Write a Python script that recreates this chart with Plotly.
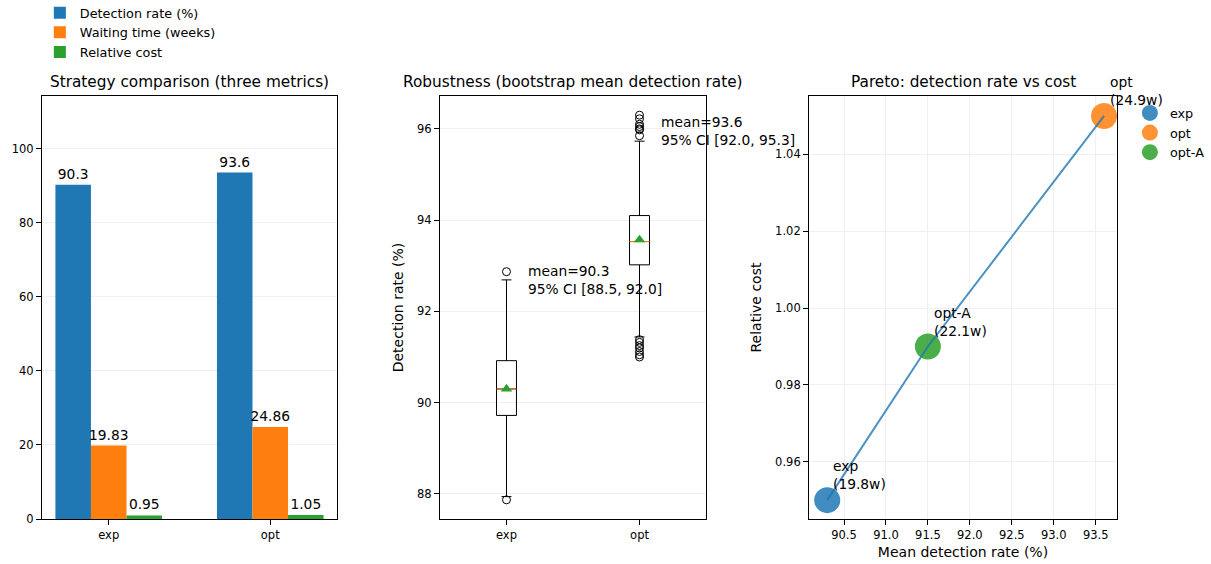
import plotly.graph_objects as go

FONT = "DejaVu Sans"
C0, C1, C2 = "#1f77b4", "#ff7f0e", "#2ca02c"

# ---- data ----
strategies = ["exp", "opt"]
detection_rate = [90.3, 93.6]
waiting_weeks = [19.83, 24.86]
relative_cost = [0.95, 1.05]

# bootstrap box summary
box_q1 = [89.72, 93.02]
box_median = [90.30, 93.53]
box_q3 = [90.92, 94.10]
box_low = [87.94, 91.44]
box_high = [92.69, 95.73]
box_mean = [90.30, 93.57]
ci_low = [88.5, 92.0]
ci_high = [92.0, 95.3]
outliers_exp = [92.87, 87.87]
outliers_opt = [96.30, 96.22, 96.10, 96.05, 96.00, 95.98, 95.85,
                91.38, 91.32, 91.25, 91.20, 91.12, 91.05, 91.00]

# pareto
pareto_names = ["exp", "opt", "opt-A"]
pareto_rate = [90.3, 93.6, 91.5]
pareto_cost = [0.95, 1.05, 0.99]
pareto_weeks = [19.8, 24.9, 22.1]
pareto_colors = [C0, C1, C2]

fig = go.Figure()

# ---- panel 1: grouped bars ----
bar_series = [
    ("Detection rate (%)", detection_rate, C0, "{:.1f}"),
    ("Waiting time (weeks)", waiting_weeks, C1, "{:.2f}"),
    ("Relative cost", relative_cost, C2, "{:.2f}"),
]
for name, vals, col, fmt in bar_series:
    fig.add_trace(go.Bar(
        x=strategies, y=vals, name=name, marker=dict(color=col, line=dict(width=0)),
        text=[fmt.format(v) for v in vals], textposition="outside",
        constraintext="none",
        textfont=dict(family=FONT, size=13.8, color="black"),
        cliponaxis=False, xaxis="x", yaxis="y", legend="legend",
    ))

# ---- panel 2: boxes ----
box_pos = [1, 2]
box_w = 0.15
for i, s in enumerate(strategies):
    fig.add_trace(go.Box(
        x=[box_pos[i]], q1=[box_q1[i]], median=[box_median[i]], q3=[box_q3[i]],
        lowerfence=[box_low[i]], upperfence=[box_high[i]],
        width=box_w, whiskerwidth=0.5, boxpoints=False,
        line=dict(color="black", width=1), fillcolor="rgba(255,255,255,0)",
        showlegend=False, xaxis="x2", yaxis="y2", hoverinfo="skip",
    ))
    # orange median line
    fig.add_trace(go.Scatter(
        x=[box_pos[i] - box_w / 2, box_pos[i] + box_w / 2],
        y=[box_median[i], box_median[i]], mode="lines",
        line=dict(color=C1, width=1), showlegend=False, xaxis="x2", yaxis="y2",
    ))
# outliers
for pos, outs in zip(box_pos, [outliers_exp, outliers_opt]):
    fig.add_trace(go.Scatter(
        x=[pos] * len(outs), y=outs, mode="markers",
        marker=dict(symbol="circle-open", size=8, color="black", line=dict(width=1)),
        showlegend=False, xaxis="x2", yaxis="y2",
    ))
# means
fig.add_trace(go.Scatter(
    x=box_pos, y=box_mean, mode="markers",
    marker=dict(symbol="triangle-up", size=10, color=C2),
    showlegend=False, xaxis="x2", yaxis="y2",
))

# ---- panel 3: pareto ----
for n, r, c, col in zip(pareto_names, pareto_rate, pareto_cost, pareto_colors):
    fig.add_trace(go.Scatter(
        x=[r], y=[c], mode="markers", name=n,
        marker=dict(size=26, color=col, opacity=0.85),
        xaxis="x3", yaxis="y3", legend="legend2",
    ))
order = sorted(range(len(pareto_rate)), key=lambda k: pareto_rate[k])
fig.add_trace(go.Scatter(
    x=[pareto_rate[k] for k in order], y=[pareto_cost[k] for k in order],
    mode="lines", line=dict(color=C0, width=2), opacity=0.8,
    showlegend=False, xaxis="x3", yaxis="y3",
))

annotations = []
# subplot titles
titles = ["Strategy comparison (three metrics)",
          "Robustness (bootstrap mean detection rate)",
          "Pareto: detection rate vs cost"]
domains = [[0, 0.2744], [0.3702, 0.6177], [0.7135, 1.0]]
for t, d in zip(titles, domains):
    annotations.append(dict(
        text=t, x=(d[0] + d[1]) / 2, y=1, xref="paper", yref="paper",
        xanchor="center", yanchor="bottom", yshift=3, showarrow=False,
        font=dict(family=FONT, size=15.3, color="black"),
    ))
# box annotations (placed a fixed offset above the mean)
for i in range(len(strategies)):
    annotations.append(dict(
        text=f"mean={box_mean[i]:.1f}<br>95% CI [{ci_low[i]:.1f}, {ci_high[i]:.1f}]",
        x=box_pos[i] + 0.15, y=box_mean[i] + 2.35, xref="x2", yref="y2",
        xanchor="left", yanchor="middle", align="left", showarrow=False,
        yshift=2,
        font=dict(family=FONT, size=13.8, color="black"),
    ))
# pareto labels
for n, r, c, w in zip(pareto_names, pareto_rate, pareto_cost, pareto_weeks):
    annotations.append(dict(
        text=f"{n}<br>({w:.1f}w)", x=r, y=c, xref="x3", yref="y3",
        xanchor="left", yanchor="bottom", align="left", showarrow=False,
        xshift=4, yshift=6,
        font=dict(family=FONT, size=13.8, color="black"),
    ))

axis_common = dict(
    showline=True, mirror=True, linecolor="black", linewidth=1,
    ticks="outside", ticklen=5, tickcolor="black", tickwidth=1,
    tickfont=dict(family=FONT, size=11.5, color="black"),
    zeroline=False,
)
grid = dict(showgrid=True, gridcolor="#f0f0f0", gridwidth=1)
nogrid = dict(showgrid=False)

fig.update_layout(
    width=1211, height=564,
    margin=dict(l=42, r=94, t=96, b=45, autoexpand=False),
    paper_bgcolor="white", plot_bgcolor="white",
    barmode="group", bargap=0.34, bargroupgap=0,
    font=dict(family=FONT, color="black"),
    annotations=annotations,
    xaxis=dict(domain=domains[0], range=[-0.413, 1.413], **axis_common, **nogrid),
    yaxis=dict(range=[0, 114.3], tickvals=[0, 20, 40, 60, 80, 100], **axis_common, **grid),
    xaxis2=dict(domain=domains[1], anchor="y2", range=[0.5, 2.5], tickvals=box_pos,
                ticktext=strategies, **axis_common, **nogrid),
    yaxis2=dict(anchor="x2", range=[87.45, 96.72], tickvals=[88, 90, 92, 94, 96],
                title=dict(text="Detection rate (%)", font=dict(family=FONT, size=14), standoff=10),
                **axis_common, **grid),
    xaxis3=dict(domain=domains[2], anchor="y3", range=[90.083, 93.754],
                tickvals=[90.5, 91.0, 91.5, 92.0, 92.5, 93.0, 93.5], tickformat=".1f",
                title=dict(text="Mean detection rate (%)", font=dict(family=FONT, size=14), standoff=6),
                **axis_common, **grid),
    yaxis3=dict(anchor="x3", range=[0.9451, 1.0552], tickvals=[0.96, 0.98, 1.00, 1.02, 1.04],
                tickformat=".2f",
                title=dict(text="Relative cost", font=dict(family=FONT, size=14), standoff=10),
                **axis_common, **grid),
    legend=dict(x=-0.002, y=1.232, xanchor="left", yanchor="top",
                font=dict(family=FONT, size=12.8, color="black"),
                bgcolor="rgba(255,255,255,0)", tracegroupgap=0, traceorder="normal"),
    legend2=dict(x=1.012, y=0.995, xanchor="left", yanchor="top",
                 font=dict(family=FONT, size=12.8, color="black"),
                 bgcolor="rgba(255,255,255,0)", itemsizing="trace", traceorder="normal"),
)

fig.write_html("out.html", config={"displayModeBar": False},
               post_script="document.body.style.margin='0px';")
